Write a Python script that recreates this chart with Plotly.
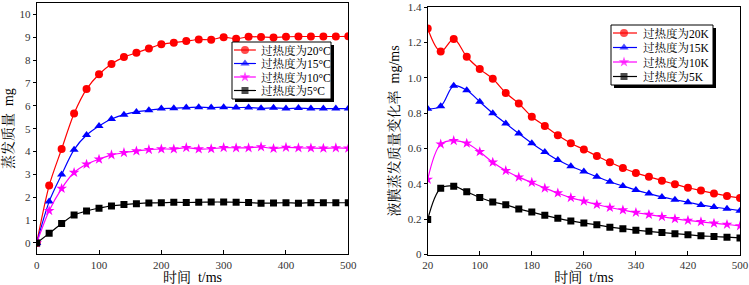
import plotly.graph_objects as go

W, H = 749, 285

# ---------------- data: left plot (evaporated mass, mg) ----------------
t_mass = [0, 20, 40, 60, 80, 100, 120, 140, 160, 180, 200, 220, 240, 260, 280,
          300, 320, 340, 360, 380, 400, 420, 440, 460, 480, 500]
mass_20 = [0, 2.51, 4.11, 5.66, 6.73, 7.38, 7.83, 8.13, 8.32, 8.51, 8.69, 8.76, 8.83,
           8.90, 8.89, 9.00, 8.93, 9.02, 9.01, 8.99, 9.02, 9.03, 9.03, 9.03, 9.03, 9.04]
mass_15 = [0, 1.81, 2.99, 4.08, 4.72, 5.12, 5.42, 5.61, 5.73, 5.80, 5.88, 5.89, 5.92,
           5.94, 5.92, 5.94, 5.92, 5.93, 5.89, 5.91, 5.88, 5.90, 5.88, 5.88, 5.88, 5.88]
mass_10 = [0, 1.41, 2.38, 3.08, 3.44, 3.66, 3.85, 3.95, 4.02, 4.08, 4.11, 4.11, 4.17,
           4.11, 4.12, 4.17, 4.16, 4.16, 4.20, 4.13, 4.18, 4.16, 4.15, 4.14, 4.16, 4.14]
mass_5 = [0, 0.42, 0.85, 1.22, 1.40, 1.52, 1.62, 1.68, 1.72, 1.75, 1.76, 1.78, 1.77,
          1.78, 1.79, 1.79, 1.78, 1.77, 1.74, 1.75, 1.76, 1.74, 1.76, 1.76, 1.76, 1.76]

# ---------------- data: right plot (evaporation rate, mg/ms) ----------------
t_rate = [20, 40, 60, 80, 100, 120, 140, 160, 180, 200, 220, 240, 260, 280, 300,
          320, 340, 360, 380, 400, 420, 440, 460, 480, 500]
rate_20 = [1.28, 1.15, 1.22, 1.12, 1.05, 0.995, 0.915, 0.855, 0.78, 0.728, 0.675, 0.63,
           0.595, 0.558, 0.522, 0.49, 0.462, 0.44, 0.418, 0.398, 0.378, 0.362, 0.346, 0.332, 0.32]
rate_15 = [0.825, 0.84, 0.955, 0.93, 0.865, 0.80, 0.742, 0.685, 0.63, 0.58, 0.535, 0.50,
           0.47, 0.44, 0.412, 0.388, 0.365, 0.345, 0.326, 0.31, 0.296, 0.281, 0.269, 0.259, 0.248]
rate_10 = [0.425, 0.625, 0.645, 0.63, 0.582, 0.522, 0.475, 0.438, 0.408, 0.376, 0.348, 0.322,
           0.302, 0.283, 0.266, 0.252, 0.238, 0.226, 0.214, 0.202, 0.193, 0.185, 0.177, 0.17, 0.162]
rate_5 = [0.198, 0.375, 0.387, 0.355, 0.323, 0.298, 0.282, 0.258, 0.24, 0.222, 0.205, 0.19,
          0.178, 0.168, 0.155, 0.146, 0.138, 0.131, 0.124, 0.118, 0.112, 0.106, 0.102, 0.098, 0.094]

names_left = ["过热度为20°C", "过热度为15°C", "过热度为10°C", "过热度为5°C"]
names_right = ["过热度为20K", "过热度为15K", "过热度为10K", "过热度为5K"]

left_xticks = [0, 100, 200, 300, 400, 500]
left_yticks = [0, 1, 2, 3, 4, 5, 6, 7, 8, 9, 10]
right_xticks = [20, 100, 180, 260, 340, 420, 500]
right_yticks = [0, 0.2, 0.4, 0.6, 0.8, 1.0, 1.2, 1.4]
right_yticktext = ["0", "0.2", "0.4", "0.6", "0.8", "1.0", "1.2", "1.4"]

# ---------------- styles ----------------
colors = ["#ff0000", "#0000ff", "#ff00ff", "#000000"]
symbols = ["circle", "triangle-up", "star", "square"]
msizes = [8, 8, 8, 7]
FONT = "Liberation Serif, Noto Serif CJK SC, Noto Sans CJK SC, serif"
TICKCOL = "#333333"

fig = go.Figure()

left_series = [mass_20, mass_15, mass_10, mass_5]
right_series = [rate_20, rate_15, rate_10, rate_5]

for i, ys in enumerate(left_series):
    fig.add_trace(go.Scatter(
        x=t_mass, y=ys, mode="lines+markers", name=names_left[i],
        line=dict(color=colors[i], width=1.2, shape="spline", smoothing=0.8),
        marker=dict(symbol=symbols[i], size=msizes[i], color=colors[i], line=dict(width=0)),
        xaxis="x", yaxis="y", showlegend=False))

for i, ys in enumerate(right_series):
    fig.add_trace(go.Scatter(
        x=t_rate, y=ys, mode="lines+markers", name=names_right[i],
        line=dict(color=colors[i], width=1.2, shape="spline", smoothing=1.0),
        marker=dict(symbol=symbols[i], size=msizes[i], color=colors[i], line=dict(width=0)),
        xaxis="x2", yaxis="y2", showlegend=False))

# ---------------- hand-built legends (pixel overlay axes x3/y3) ----------------
legend_boxes = [
    dict(x0=232, x1=331, y0=42, y1=99, rows=[50, 63.5, 77, 90.5],
         line_x=(234, 256), mark_x=245, text_x=259, names=names_left),
    dict(x0=611, x1=713, y0=25, y1=85, rows=[33, 47.5, 62, 76.5],
         line_x=(613, 637), mark_x=624, text_x=641, names=names_right),
]
SHADOW = 3
annotations = []
for lb in legend_boxes:
    x0, x1, y0, y1 = lb["x0"], lb["x1"], lb["y0"], lb["y1"]
    # drop shadow
    fig.add_trace(go.Scatter(
        x=[x0 + SHADOW, x1 + SHADOW, x1 + SHADOW, x0 + SHADOW, x0 + SHADOW],
        y=[y0 + SHADOW, y0 + SHADOW, y1 + SHADOW, y1 + SHADOW, y0 + SHADOW],
        mode="lines", fill="toself", fillcolor="black", line=dict(color="black", width=0),
        xaxis="x3", yaxis="y3", showlegend=False, hoverinfo="skip"))
    # white box with border
    fig.add_trace(go.Scatter(
        x=[x0, x1, x1, x0, x0], y=[y0, y0, y1, y1, y0],
        mode="lines", fill="toself", fillcolor="white", line=dict(color="black", width=1),
        xaxis="x3", yaxis="y3", showlegend=False, hoverinfo="skip"))
    for i, ry in enumerate(lb["rows"]):
        fig.add_trace(go.Scatter(
            x=[lb["line_x"][0], lb["mark_x"], lb["line_x"][1]], y=[ry, ry, ry],
            mode="lines+markers", line=dict(color=colors[i], width=1.2),
            marker=dict(symbol=symbols[i], size=[0, msizes[i], 0], color=colors[i],
                        line=dict(width=0)),
            xaxis="x3", yaxis="y3", showlegend=False, hoverinfo="skip", cliponaxis=False))
        annotations.append(dict(x=lb["text_x"], y=ry, xref="x3", yref="y3",
                                text=lb["names"][i], showarrow=False,
                                xanchor="left", yanchor="middle",
                                font=dict(family=FONT, size=11.5, color="black")))

axis_common = dict(showline=True, linecolor="black", linewidth=1, mirror=True,
                   showgrid=False, zeroline=False, tickcolor="black", automargin=False,
                   tickfont=dict(family=FONT, size=11, color=TICKCOL))

fig.update_layout(
    width=W, height=H, margin=dict(l=0, r=0, t=0, b=0, autoexpand=False),
    paper_bgcolor="white", plot_bgcolor="rgba(0,0,0,0)",
    showlegend=False, hovermode=False,
    font=dict(family=FONT, color="black"),
    xaxis=dict(domain=[36.7 / W, 348.3 / W], range=[0, 500], tickvals=left_xticks,
               ticks="inside", ticklen=4, anchor="y",
               title=dict(text="时间  t/ms", font=dict(family=FONT, size=14), standoff=0),
               **axis_common),
    yaxis=dict(domain=[1 - 254.4 / H, 1 - 2.9 / H], range=[-0.5, 10.5], tickvals=left_yticks,
               ticks="outside", ticklen=3, anchor="x",
               title=dict(text="蒸发质量  mg", font=dict(family=FONT, size=14), standoff=4),
               **axis_common),
    xaxis2=dict(domain=[427.7 / W, 740 / W], range=[20, 500], tickvals=right_xticks,
                ticks="inside", ticklen=4, anchor="y2",
                title=dict(text="时间  t/ms", font=dict(family=FONT, size=14), standoff=0),
                **axis_common),
    yaxis2=dict(domain=[1 - 254.5 / H, 1 - 7.3 / H], range=[0, 1.4], tickvals=right_yticks,
                ticktext=right_yticktext, ticks="outside", ticklen=3, anchor="x2",
                title=dict(text="液膜蒸发质量变化率  mg/ms", font=dict(family=FONT, size=14), standoff=4),
                **axis_common),
    xaxis3=dict(domain=[0, 1], range=[0, W], visible=False, anchor="y3", fixedrange=True),
    yaxis3=dict(domain=[0, 1], range=[H, 0], visible=False, anchor="x3", fixedrange=True),
    annotations=annotations,
)

fig.write_html("out.html", config={"displayModeBar": False, "staticPlot": True},
               post_script="document.body.style.margin='0px';document.body.style.overflow='hidden';")
